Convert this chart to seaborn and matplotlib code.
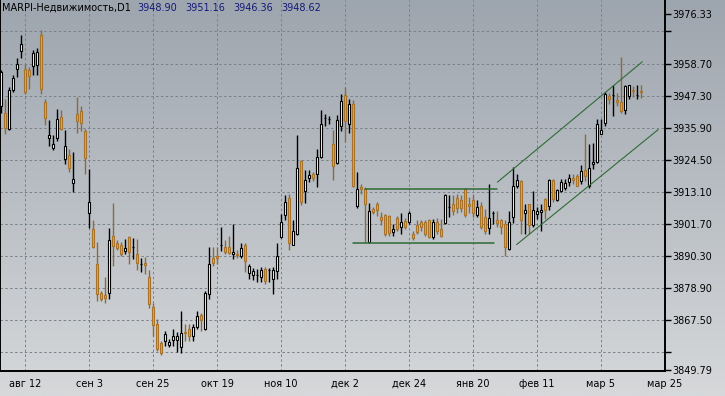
import numpy as np
import pandas as pd
import seaborn as sns
import matplotlib.pyplot as plt
from matplotlib.colors import LinearSegmentedColormap

# дневные бары MARPI-Недвижимость (open/high/low/close)
opens = [
    3943.5, 3941.1, 3935.5, 3949.2, 3956.9, 3963.2, 3956.6, 3956.3, 3957.7, 3958.1,
    3968.8, 3945.0, 3932.3, 3928.6, 3932.3, 3939.7, 3924.9, 3926.0, 3916.2, 3940.9,
    3941.7, 3934.7, 3905.5, 3899.9, 3887.5, 3877.1, 3876.5, 3877.0, 3897.5, 3894.8,
    3894.0, 3891.9, 3896.9, 3893.3, 3891.0, 3887.5, 3887.8, 3882.9, 3872.2, 3866.1,
    3859.2, 3859.9, 3858.6, 3860.4, 3860.4, 3858.0, 3863.3, 3864.3, 3861.9, 3865.1,
    3869.1, 3864.3, 3876.8, 3889.4, 3890.2, 3894.0, 3893.6, 3893.6, 3890.8, 3891.0,
    3890.1, 3894.3, 3884.1, 3883.3, 3883.3, 3882.7, 3885.7, 3885.1, 3882.1, 3884.8,
    3896.9, 3904.9, 3910.8, 3894.3, 3898.1, 3923.9, 3913.3, 3918.1, 3919.5, 3919.5,
    3925.4, 3939.3, 3938.9, 3930.0, 3923.3, 3936.4, 3947.4, 3937.3, 3944.2, 3908.0,
    3914.7, 3914.2, 3895.1, 3906.8, 3908.8, 3904.1, 3904.9, 3904.3, 3898.7, 3903.7,
    3900.5, 3902.6, 3902.5, 3898.1, 3901.1, 3902.3, 3902.3, 3902.9, 3896.9, 3902.5,
    3899.9, 3901.9, 3907.6, 3908.8, 3911.0, 3910.0, 3914.2, 3908.8, 3910.0, 3904.7,
    3907.9, 3904.1, 3900.3, 3905.5, 3902.9, 3903.1, 3901.5, 3892.8, 3904.1, 3915.1,
    3916.9, 3905.5, 3908.6, 3901.1, 3905.0, 3905.8, 3910.6, 3907.9, 3917.4, 3910.3,
    3913.3, 3914.5, 3916.5, 3918.1, 3918.6, 3916.9, 3920.9, 3915.0, 3922.8, 3923.6,
    3933.8, 3937.5, 3947.1, 3947.4, 3945.9, 3945.0, 3942.3, 3947.1, 3949.4, 3947.4,
    3948.90,
]
highs = [
    3956.3, 3946.2, 3950.4, 3954.5, 3960.5, 3968.8, 3958.7, 3957.5, 3963.4, 3964.4,
    3970.6, 3946.2, 3938.5, 3933.2, 3942.7, 3942.3, 3935.2, 3928.4, 3927.2, 3946.8,
    3943.5, 3935.5, 3921.3, 3903.1, 3895.1, 3877.9, 3882.7, 3900.3, 3909.0, 3895.8,
    3895.1, 3896.4, 3897.2, 3896.5, 3896.4, 3889.6, 3889.8, 3885.1, 3873.4, 3867.9,
    3860.1, 3863.7, 3860.7, 3864.3, 3863.1, 3870.8, 3866.1, 3866.1, 3866.1, 3870.8,
    3869.9, 3877.7, 3893.4, 3893.4, 3893.4, 3900.5, 3895.8, 3897.5, 3901.5, 3892.4,
    3894.8, 3894.8, 3887.5, 3886.0, 3885.7, 3886.2, 3886.2, 3886.0, 3886.2, 3894.8,
    3905.3, 3911.8, 3912.4, 3903.1, 3933.2, 3924.3, 3920.9, 3920.7, 3920.1, 3928.4,
    3942.3, 3940.6, 3939.9, 3934.9, 3940.3, 3947.8, 3950.4, 3946.2, 3945.6, 3920.1,
    3916.0, 3914.7, 3909.0, 3907.6, 3909.4, 3905.8, 3905.3, 3904.7, 3901.5, 3904.3,
    3905.5, 3903.8, 3906.4, 3899.1, 3903.1, 3902.9, 3903.1, 3903.5, 3903.5, 3903.8,
    3903.5, 3912.4, 3911.8, 3912.1, 3912.4, 3911.8, 3914.5, 3911.2, 3911.8, 3910.0,
    3909.4, 3907.0, 3916.0, 3906.4, 3906.4, 3903.5, 3902.9, 3906.2, 3921.9, 3919.3,
    3917.4, 3908.8, 3908.8, 3913.3, 3907.6, 3908.8, 3911.0, 3917.7, 3917.7, 3914.2,
    3917.7, 3917.7, 3919.3, 3919.3, 3919.3, 3922.5, 3933.5, 3930.0, 3930.4, 3939.1,
    3938.8, 3948.6, 3948.2, 3951.0, 3948.2, 3961.0, 3951.0, 3951.2, 3950.6, 3951.0,
    3951.16,
]
lows = [
    3941.0, 3933.8, 3934.9, 3948.6, 3953.9, 3960.8, 3948.0, 3949.8, 3954.5, 3954.5,
    3948.0, 3936.7, 3929.2, 3927.8, 3931.1, 3934.9, 3922.8, 3920.1, 3913.0, 3934.1,
    3934.7, 3919.3, 3900.3, 3893.2, 3874.4, 3874.4, 3873.4, 3875.0, 3886.6, 3892.2,
    3890.4, 3891.0, 3887.5, 3889.3, 3885.1, 3884.5, 3883.9, 3871.8, 3861.9, 3856.3,
    3855.1, 3858.3, 3858.0, 3858.3, 3856.0, 3855.6, 3859.9, 3860.1, 3860.1, 3864.3,
    3863.7, 3863.9, 3875.0, 3886.8, 3887.5, 3891.9, 3891.0, 3891.0, 3889.2, 3889.6,
    3889.6, 3884.5, 3882.1, 3881.8, 3880.9, 3880.9, 3880.3, 3880.9, 3876.8, 3882.1,
    3896.7, 3903.2, 3892.4, 3894.0, 3897.8, 3908.2, 3909.0, 3916.5, 3916.9, 3914.7,
    3925.2, 3936.4, 3937.1, 3917.4, 3923.1, 3934.7, 3930.8, 3934.0, 3914.7, 3907.4,
    3912.4, 3895.1, 3894.8, 3905.3, 3904.3, 3901.1, 3897.5, 3897.5, 3897.5, 3899.3,
    3898.1, 3899.9, 3901.5, 3896.0, 3898.1, 3899.1, 3897.2, 3896.7, 3896.4, 3898.1,
    3896.9, 3901.5, 3904.1, 3904.7, 3905.5, 3905.8, 3904.1, 3905.5, 3904.1, 3904.1,
    3899.9, 3898.1, 3898.1, 3901.7, 3900.5, 3898.1, 3890.4, 3892.4, 3901.9, 3914.5,
    3898.1, 3898.1, 3898.1, 3900.5, 3903.5, 3899.1, 3903.5, 3906.7, 3909.4, 3909.8,
    3913.0, 3913.8, 3915.3, 3915.7, 3915.0, 3915.7, 3916.9, 3914.5, 3921.3, 3923.3,
    3933.5, 3936.4, 3944.2, 3939.9, 3943.5, 3941.1, 3940.6, 3946.2, 3946.8, 3946.2,
    3946.36,
]
closes = [
    3955.7, 3935.9, 3949.4, 3953.7, 3958.7, 3965.8, 3948.6, 3954.3, 3962.3, 3962.8,
    3949.8, 3939.3, 3933.4, 3930.2, 3938.8, 3935.5, 3929.5, 3921.7, 3917.6, 3938.1,
    3937.7, 3925.2, 3909.4, 3893.4, 3876.8, 3875.0, 3875.3, 3896.0, 3893.7, 3893.2,
    3891.0, 3892.9, 3891.6, 3893.3, 3887.7, 3887.5, 3887.2, 3873.0, 3865.8, 3857.2,
    3855.6, 3862.5, 3859.5, 3861.6, 3861.6, 3862.9, 3862.7, 3861.9, 3864.9, 3869.0,
    3867.3, 3877.0, 3887.5, 3887.7, 3889.6, 3894.0, 3891.6, 3891.4, 3891.7, 3890.5,
    3893.0, 3888.3, 3886.5, 3884.8, 3883.3, 3885.3, 3881.3, 3885.1, 3885.3, 3890.4,
    3902.3, 3909.4, 3894.8, 3899.1, 3921.7, 3909.4, 3917.4, 3918.9, 3918.1, 3925.4,
    3937.1, 3939.3, 3938.9, 3922.1, 3938.5, 3945.3, 3938.3, 3944.4, 3915.1, 3914.2,
    3914.2, 3908.6, 3906.2, 3905.8, 3906.7, 3902.9, 3898.1, 3898.4, 3899.9, 3899.9,
    3902.3, 3900.7, 3905.5, 3896.7, 3898.7, 3900.7, 3898.1, 3896.9, 3902.3, 3899.1,
    3897.5, 3911.8, 3907.6, 3906.1, 3907.4, 3907.4, 3904.7, 3907.9, 3905.5, 3907.6,
    3900.7, 3899.3, 3903.8, 3905.5, 3902.1, 3900.5, 3893.6, 3902.3, 3915.3, 3917.4,
    3903.1, 3906.7, 3901.1, 3906.7, 3906.2, 3906.7, 3906.7, 3917.4, 3910.6, 3913.8,
    3916.5, 3916.2, 3918.1, 3917.4, 3915.3, 3920.4, 3918.6, 3921.7, 3923.6, 3937.3,
    3935.2, 3947.8, 3946.1, 3947.4, 3945.0, 3941.8, 3950.6, 3951.0, 3948.9, 3947.4,
    3948.62,
]

# подписи оси дат (номер бара -> дата)
date_bars = [6, 22, 38, 54, 70, 86, 102, 118, 134, 150, 166]
date_labels = ["авг 12", "сен 3", "сен 25", "окт 19", "ноя 10", "дек 2",
               "дек 24", "янв 20", "фев 11", "мар 5", "мар 25"]

price_ticks = [3849.79, 3856.10, 3867.50, 3878.90, 3890.30, 3901.70, 3913.10,
               3924.50, 3935.90, 3947.30, 3958.70, 3970.10, 3976.33]
price_labels = ["3849.79", "", "3867.50", "3878.90", "3890.30", "3901.70", "3913.10",
                "3924.50", "3935.90", "3947.30", "3958.70", "", "3976.33"]
grid_levels = [3856.10, 3867.50, 3878.90, 3890.30, 3901.70, 3913.10,
               3924.50, 3935.90, 3947.30, 3958.70, 3970.10]

# трендовые линии: боковик и восходящий канал
box_top_x, box_top_y = [91.0, 124.1], [3914.2, 3914.2]
box_bot_x, box_bot_y = [88.1, 123.3], [3894.9, 3894.9]
chan_up_x, chan_up_y = [124.1, 160.3], [3916.5, 3959.3]
chan_dn_x, chan_dn_y = [128.9, 164.3], [3894.3, 3935.2]

df = pd.DataFrame({"o": opens, "h": highs, "l": lows, "c": closes})
df["bar"] = np.arange(len(df))
up = df["c"] >= df["o"]

sns.set_style("white")
plt.rcParams["font.family"] = ["DejaVu Sans"]

fig = plt.figure(figsize=(7.25, 3.96), dpi=100)

# серый градиентный фон как в терминале
bg = fig.add_axes([0, 0, 1, 1], zorder=0)
grad = LinearSegmentedColormap.from_list("mt", ["#9da5ae", "#d6d8da"])
bg.imshow(np.linspace(0, 1, 256)[:, None], aspect="auto", cmap=grad, extent=[0, 1, 0, 1])
bg.axis("off")

ax = fig.add_axes([0.0, 25.5 / 396, 665 / 725, 370.5 / 396], zorder=1)
ax.set_facecolor("none")

# сетка
for lvl in grid_levels:
    ax.axhline(lvl, color="#788089", lw=0.7, ls=(0, (2.5, 2.5)), zorder=1)
for b in date_bars[:-1]:
    ax.axvline(b, color="#788089", lw=0.7, ls=(0, (2.5, 2.5)), zorder=1)

# свечи
wick_col = np.where(up, "black", "#8a6a40")
ax.vlines(df["bar"], df["l"], df["h"], colors=wick_col, lw=1.0, zorder=2)
body_lo = np.minimum(df["o"], df["c"])
body_h = (df["c"] - df["o"]).abs()
ax.bar(df["bar"], body_h, bottom=body_lo, width=0.7,
       color=np.where(up, "white", "#eba63a"),
       edgecolor=np.where(up, "black", "#a87228"), linewidth=0.8, zorder=3)

# линии
for lx, ly in [(box_top_x, box_top_y), (box_bot_x, box_bot_y)]:
    sns.lineplot(x=lx, y=ly, color="#2f6b35", lw=1.1, ax=ax, zorder=4)
for lx, ly in [(chan_up_x, chan_up_y), (chan_dn_x, chan_dn_y)]:
    sns.lineplot(x=lx, y=ly, color="#2f6b35", lw=0.8, ax=ax, zorder=4)

ax.set_xlim(-0.25, 166)
ax.set_ylim(3849.5, 3981.3)
ax.set_xticks(date_bars, date_labels)
ax.yaxis.tick_right()
ax.set_yticks(price_ticks, price_labels)
ax.tick_params(axis="x", length=4, width=1, pad=2, labelsize=7, colors="black")
ax.tick_params(axis="y", length=4, width=1, pad=1.5, labelsize=7, colors="black")
ax.set_xlabel("")
ax.set_ylabel("")
for s in ["left", "bottom", "right"]:
    ax.spines[s].set_color("black")
    ax.spines[s].set_linewidth(1.4)
ax.spines["top"].set_visible(False)

# заголовок
fig.text(2 / 725, 1 - 8 / 396, "MARPI-Недвижимость,D1", fontsize=7, color="black", va="center")
for xpx, val in zip([137, 185, 233, 281], ["3948.90", "3951.16", "3946.36", "3948.62"]):
    fig.text(xpx / 725, 1 - 8 / 396, val, fontsize=7, color="#141a7a", va="center")

fig.savefig("out.png", dpi=100)
